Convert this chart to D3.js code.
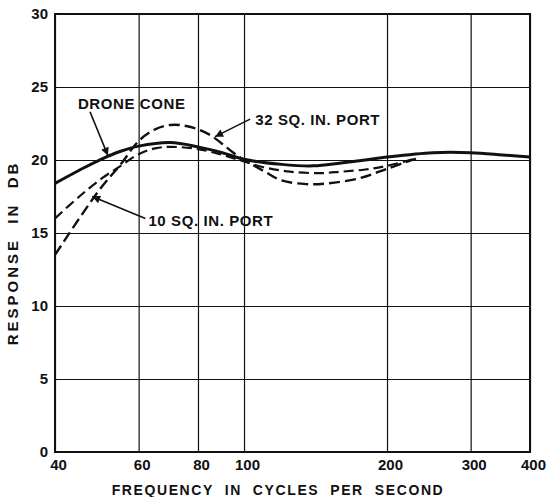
<!DOCTYPE html>
<html><head><meta charset="utf-8">
<script src="https://cdn.jsdelivr.net/npm/d3@7"></script>
<style>
html,body{margin:0;padding:0;background:#fff;}
svg text{font-family:"Liberation Sans",Arial,sans-serif;font-weight:bold;fill:#111;}
</style></head>
<body><svg id="c" width="554" height="497"></svg>
<script>
// ---- data ----
const xTicks = [40, 60, 80, 100, 200, 300, 400];
const yTicks = [0, 5, 10, 15, 20, 25, 30];
const droneFreq = [40, 45, 50, 55, 60, 70, 80, 90, 100, 120, 140, 160, 180, 200, 250, 300, 350, 400];
const droneDb   = [18.4, 19.3, 20.05, 20.6, 20.95, 21.2, 20.9, 20.5, 20.05, 19.7, 19.6, 19.8, 20.0, 20.2, 20.5, 20.5, 20.35, 20.2];
const port10Freq = [40, 45, 50, 55, 60, 65, 70, 80, 90, 100, 110, 125, 145, 160, 180, 200, 230];
const port10Db   = [16.0, 17.5, 18.7, 19.6, 20.4, 20.8, 20.9, 20.75, 20.35, 19.9, 19.5, 19.2, 19.1, 19.2, 19.35, 19.6, 20.1];
const port32Freq = [40, 45, 50, 55, 60, 65, 70, 75, 80, 85, 90, 95, 100, 110, 120, 135, 150, 175, 200, 230];
const port32Db   = [13.5, 16.0, 18.1, 19.7, 21.3, 22.1, 22.4, 22.35, 22.1, 21.7, 21.1, 20.5, 20.0, 19.25, 18.6, 18.35, 18.4, 18.75, 19.4, 20.1];
const xTitle = "FREQUENCY  IN  CYCLES  PER  SECOND";
const yTitle = "RESPONSE  IN  DB";
// annotations: [label, labelFreq, labelDb, fromFreq, fromDb, tipFreq, tipDb]
const notes = [
  ["DRONE CONE", 44.7, 23.5, 47.4, 23.3, 51.7, 20.3],
  ["32 SQ. IN. PORT", 105.6, 22.4, 103, 22.8, 86.9, 21.6],
  ["10 SQ. IN. PORT", 62.9, 15.5, 62, 16.0, 47.9, 17.5]
];

// ---- layout ----
const svg = d3.select("#c");
const L = 55, R = 530, T = 14, B = 452;
const x = d3.scaleLog().domain([40, 400]).range([L, R]);
const y = d3.scaleLinear().domain([0, 30]).range([B, T]);

svg.append("defs").append("marker")
  .attr("id", "ah").attr("viewBox", "0 0 10 10").attr("refX", 10).attr("refY", 5)
  .attr("markerWidth", 10).attr("markerHeight", 8).attr("markerUnits", "userSpaceOnUse")
  .attr("orient", "auto")
  .append("path").attr("d", "M0,0 L10,5 L0,10 z").attr("fill", "#111");

// grid via axes
const gx = svg.append("g").attr("transform", `translate(0,${B})`)
  .call(d3.axisBottom(x).tickValues(xTicks).tickFormat(d3.format("d")).tickSize(-(B - T)).tickPadding(10));
gx.select(".domain").remove();
gx.selectAll("line").attr("stroke", "#111").attr("stroke-width", 1.2);
gx.selectAll("text").attr("font-size", 15).attr("dx", 3).attr("dy", "0.55em").attr("fill", "#111");

const gy = svg.append("g").attr("transform", `translate(${L},0)`)
  .call(d3.axisLeft(y).tickValues(yTicks).tickFormat(d3.format("d")).tickSize(-(R - L)).tickPadding(7));
gy.select(".domain").remove();
gy.selectAll("line").attr("stroke", "#111").attr("stroke-width", 1.2);
gy.selectAll("text").attr("font-size", 15).attr("fill", "#111");
svg.selectAll(".tick text").style("font-family", '"Liberation Sans",Arial,sans-serif').style("font-weight", "bold");

svg.append("rect").attr("x", L).attr("y", T).attr("width", R - L).attr("height", B - T)
  .attr("fill", "none").attr("stroke", "#111").attr("stroke-width", 2);

// curves
const line = d3.line().x(d => x(d[0])).y(d => y(d[1])).curve(d3.curveCatmullRom.alpha(0.5));
function series(fr, db) { return fr.map((f, i) => [f, db[i]]); }
svg.append("path").attr("d", line(series(port32Freq, port32Db))).attr("fill", "none")
  .attr("stroke", "#111").attr("stroke-width", 2.4).attr("stroke-dasharray", "11,5");
svg.append("path").attr("d", line(series(port10Freq, port10Db))).attr("fill", "none")
  .attr("stroke", "#111").attr("stroke-width", 2.2).attr("stroke-dasharray", "10,5");
svg.append("path").attr("d", line(series(droneFreq, droneDb))).attr("fill", "none")
  .attr("stroke", "#111").attr("stroke-width", 3);

// annotations
notes.forEach(n => {
  svg.append("text").attr("x", x(n[1])).attr("y", y(n[2])).attr("font-size", 15)
    .attr("letter-spacing", 0.6).text(n[0]);
  svg.append("line").attr("x1", x(n[3])).attr("y1", y(n[4])).attr("x2", x(n[5])).attr("y2", y(n[6]))
    .attr("stroke", "#111").attr("stroke-width", 1.6).attr("marker-end", "url(#ah)");
});

// titles
svg.append("text").attr("x", 278).attr("y", 495).attr("text-anchor", "middle")
  .attr("font-size", 14).attr("letter-spacing", 1.6).style("white-space", "pre").text(xTitle);
svg.append("text").attr("transform", "translate(18,253) rotate(-90)").attr("text-anchor", "middle")
  .attr("font-size", 15).attr("letter-spacing", 3).style("white-space", "pre").text(yTitle);
</script></body></html>
